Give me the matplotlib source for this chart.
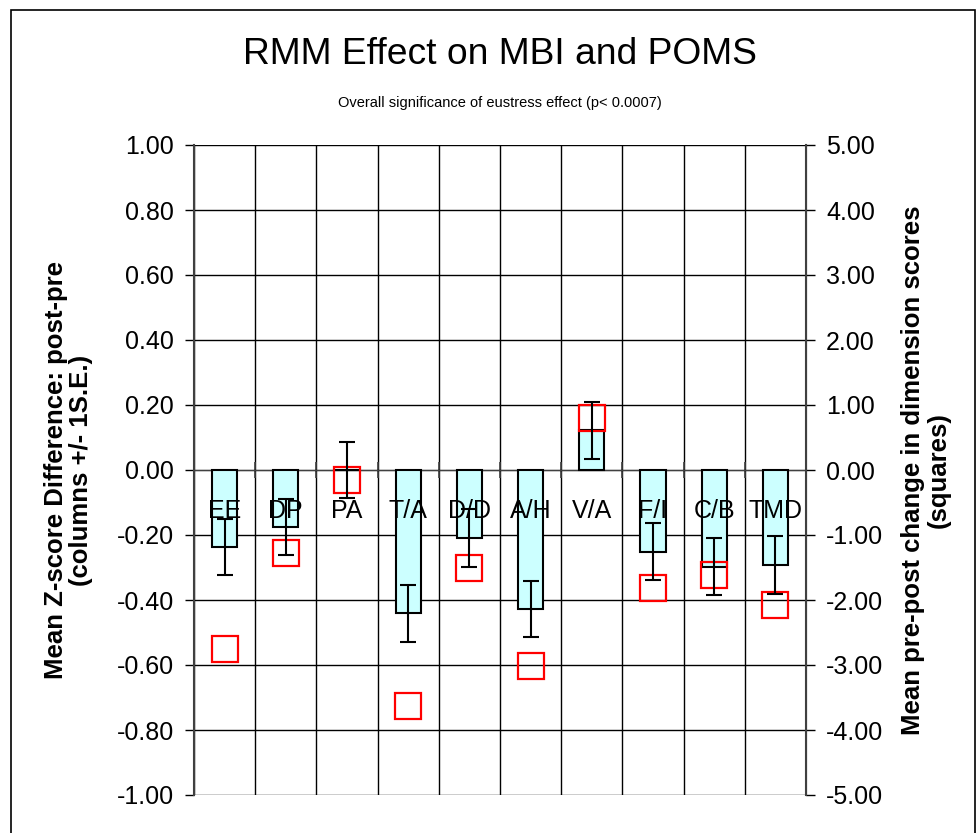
# RMM effect on MBI and POMS: z-score bars (left axis) with raw change squares (right axis)

import numpy as np
import matplotlib.pyplot as plt
from matplotlib.patches import Rectangle

plt.rcParams['font.family'] = ['Liberation Sans', 'DejaVu Sans']

# Data
categories = ['EE', 'DP', 'PA', 'T/A', 'D/D', 'A/H', 'V/A', 'F/I', 'C/B', 'TMD']
zDiff = [-0.236, -0.174, 0.0, -0.441, -0.208, -0.428, 0.122, -0.251, -0.297, -0.292]
zErr = [0.086, 0.086, 0.086, 0.087, 0.089, 0.087, 0.087, 0.087, 0.088, 0.088]
rawChange = [-2.75, -1.27, -0.16, -3.63, -1.51, -3.02, 0.80, -1.82, -1.62, -2.07]

leftTicks = [-1.0, -0.8, -0.6, -0.4, -0.2, 0.0, 0.2, 0.4, 0.6, 0.8, 1.0]
rightTicks = [-5, -4, -3, -2, -1, 0, 1, 2, 3, 4, 5]

x = np.arange(len(categories))

fig = plt.figure(figsize=(9.79, 8.33), dpi=100)
ax = fig.add_axes([194 / 979, 1 - 795 / 833, 612 / 979, 650 / 833])

# Bars
ax.bar(x, zDiff, width=0.41, color='#CCFFFF', edgecolor='black', linewidth=1.5, zorder=3)
ax.set_xlim(-0.5, len(categories) - 0.5)
ax.set_ylim(-1, 1)
ax.set_yticks(leftTicks)
ax.set_yticklabels(['%.2f' % v for v in leftTicks])
ax.set_axisbelow(True)
ax.grid(axis='y', color='black', linewidth=1)

# Category axis crosses at zero, gridlines between categories
ax.spines['bottom'].set_position(('data', 0))
ax.spines['bottom'].set_color('#404040')
ax.spines['top'].set_visible(False)
ax.spines['left'].set_color('#404040')
ax.spines['left'].set_linewidth(1.5)
ax.set_xticks(np.arange(-0.5, len(categories), 1.0))
ax.set_xticklabels([])
ax.set_xticks(x, minor=True)
ax.set_xticklabels(categories, minor=True)
ax.grid(axis='x', which='major', color='black', linewidth=1)
ax.tick_params(axis='x', which='major', direction='inout', length=11, width=1.2, color='#404040')
ax.tick_params(axis='x', which='minor', length=0, labelbottom=False)
ax.tick_params(axis='y', direction='out', length=6.5, width=1, labelsize=18, pad=8)
ax.set_ylabel('Mean Z-score Difference: post-pre\n(columns +/- 1S.E.)',
              fontsize=18.5, fontweight='bold', labelpad=17, linespacing=1.05)

# Squares on secondary axis
ax2 = ax.twinx()
ax2.plot(x, rawChange, linestyle='none', marker='s', markersize=19,
         markerfacecolor='none', markeredgecolor='red', markeredgewidth=1.6)
ax2.set_ylim(-5, 5)
ax2.set_yticks(rightTicks)
ax2.set_yticklabels(['%.2f' % v for v in rightTicks])
ax2.tick_params(axis='y', direction='out', length=6.5, width=1, labelsize=18, pad=8)
for s in ['top', 'bottom', 'left']:
    ax2.spines[s].set_visible(False)
ax2.spines['right'].set_color('#404040')
ax2.spines['right'].set_linewidth(1.5)
ax2.set_ylabel('Mean pre-post change in dimension scores\n(squares)',
               fontsize=18.5, fontweight='bold', labelpad=13, linespacing=1.05)

# Error bars and category labels drawn last so they sit over bars and squares
ax3 = ax.twinx()
ax3.set_ylim(-1, 1)
ax3.errorbar(x, zDiff, yerr=zErr, fmt='none', ecolor='black', elinewidth=1.5,
             capsize=5.5, capthick=1.5)
for s in ['top', 'bottom', 'left', 'right']:
    ax3.spines[s].set_visible(False)
ax3.spines['bottom'].set_position(('data', 0))
ax3.yaxis.set_visible(False)
ax3.xaxis.set_visible(True)
ax3.tick_params(axis='x', which='major', length=0, labelbottom=False)
ax3.tick_params(axis='x', which='minor', length=0, pad=21, labelsize=18, labelbottom=True)

# Titles
fig.text(0.5107, 1 - 55 / 833, 'RMM Effect on MBI and POMS', ha='center', va='center', fontsize=26.8)
fig.text(0.5107, 1 - 103 / 833, 'Overall significance of eustress effect (p< 0.0007)',
         ha='center', va='center', fontsize=10.5)

# Chart border
fig.patches.append(Rectangle((11 / 979, -0.02), 964 / 979, 1.02 - 10 / 833, transform=fig.transFigure,
                             fill=False, edgecolor='black', linewidth=1.2))

plt.savefig('out.png')
